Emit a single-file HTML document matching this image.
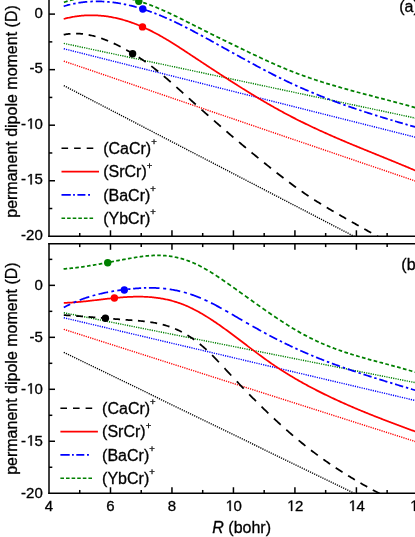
<!DOCTYPE html>
<html><head><meta charset="utf-8"><title>chart</title>
<style>html,body{margin:0;padding:0;background:#fff;}body{width:415px;height:537px;overflow:hidden;font-family:"Liberation Sans",sans-serif;}svg{display:block;will-change:transform;}</style></head>
<body>
<svg width="415" height="537" viewBox="0 0 415 537" font-family="'Liberation Sans', sans-serif" fill="#000"><style>text{stroke:#000;stroke-width:0.3px;}.o{fill:none;stroke:none;}</style>
<rect width="415" height="537" fill="#fff"/>
<clipPath id="ca"><rect x="49.00" y="-5.00" width="371.00" height="241.30"/></clipPath>
<g clip-path="url(#ca)">
<line x1="63.79" y1="85.62" x2="424.03" y2="272.66" stroke="#000" stroke-width="1.4" stroke-dasharray="1.2 1.1"/>
<line x1="63.79" y1="61.10" x2="424.03" y2="184.00" stroke="#f00" stroke-width="1.4" stroke-dasharray="1.2 1.1"/>
<line x1="63.79" y1="48.75" x2="424.03" y2="139.37" stroke="#00f" stroke-width="1.4" stroke-dasharray="1.2 1.1"/>
<line x1="63.79" y1="43.37" x2="424.03" y2="119.93" stroke="#008000" stroke-width="1.4" stroke-dasharray="1.2 1.1"/>
<path d="M63.70 34.72L64.67 34.53L65.64 34.36L66.61 34.21L67.58 34.07L68.55 33.95L69.52 33.85L70.49 33.76M76.13 33.56L77.11 33.58L78.10 33.61L79.08 33.66L80.07 33.72L81.05 33.80L82.04 33.89L83.02 33.99M88.66 34.87L89.64 35.06L90.63 35.27L91.61 35.49L92.60 35.73L93.58 35.97L94.57 36.23L95.55 36.50M101.19 38.27L102.17 38.62L103.16 38.97L104.14 39.34L105.13 39.71L106.11 40.10L107.10 40.50L108.08 40.90M113.72 43.39L114.70 43.86L115.69 44.33L116.67 44.81L117.66 45.30L118.64 45.79L119.63 46.29L120.61 46.80M126.25 49.85L127.23 50.40L128.22 50.96L129.20 51.52L130.19 52.09L131.17 52.67L132.16 53.25L133.14 53.84M138.78 57.35L139.76 57.99L140.75 58.64L141.73 59.30L142.72 59.96L143.70 60.64L144.69 61.32L145.67 62.02M151.31 66.15L152.29 66.90L153.28 67.66L154.26 68.42L155.25 69.19L156.23 69.97L157.22 70.76L158.20 71.55M163.84 76.20L164.82 77.03L165.81 77.86L166.79 78.70L167.78 79.54L168.76 80.39L169.75 81.24L170.73 82.10M176.37 87.06L177.35 87.94L178.34 88.82L179.32 89.70L180.31 90.58L181.29 91.46L182.28 92.35L183.26 93.23M188.90 98.32L189.88 99.21L190.87 100.09L191.85 100.98L192.84 101.86L193.82 102.75L194.81 103.63L195.79 104.51M201.43 109.55L202.41 110.42L203.40 111.29L204.38 112.17L205.37 113.04L206.35 113.91L207.34 114.78L208.32 115.64M213.96 120.59L214.94 121.45L215.93 122.31L216.91 123.16L217.90 124.02L218.88 124.87L219.87 125.73L220.85 126.58M226.49 131.44L227.47 132.28L228.46 133.12L229.44 133.97L230.43 134.81L231.41 135.64L232.40 136.48L233.38 137.32M239.02 142.08L240.00 142.91L240.99 143.74L241.97 144.56L242.96 145.38L243.94 146.21L244.93 147.03L245.91 147.85M251.55 152.51L252.53 153.32L253.52 154.13L254.50 154.94L255.49 155.75L256.47 156.55L257.46 157.35L258.44 158.16M264.08 162.72L265.06 163.51L266.05 164.30L267.03 165.09L268.02 165.88L269.00 166.67L269.99 167.45L270.97 168.24M276.61 172.69L277.59 173.46L278.58 174.23L279.56 175.00L280.55 175.76L281.53 176.52L282.52 177.28L283.50 178.03M289.14 182.31L290.12 183.04L291.11 183.77L292.09 184.50L293.08 185.23L294.06 185.95L295.05 186.67L296.03 187.38M301.67 191.39L302.65 192.07L303.64 192.75L304.62 193.43L305.61 194.10L306.59 194.77L307.58 195.43L308.56 196.09M314.20 199.77L315.18 200.39L316.17 201.02L317.15 201.64L318.14 202.25L319.12 202.86L320.11 203.47L321.09 204.08M326.73 207.49L327.71 208.07L328.70 208.66L329.68 209.24L330.67 209.82L331.65 210.39L332.64 210.97L333.62 211.54M339.26 214.79L340.24 215.35L341.23 215.92L342.21 216.48L343.20 217.04L344.18 217.60L345.17 218.15L346.15 218.71M351.79 221.91L352.77 222.46L353.76 223.02L354.74 223.57L355.73 224.13L356.71 224.68L357.70 225.24L358.68 225.79M364.32 228.96L365.30 229.52L366.29 230.07L367.27 230.62L368.26 231.17L369.24 231.73L370.23 232.28L371.21 232.83M376.85 235.99L377.83 236.54L378.82 237.09L379.80 237.64L380.79 238.19L381.77 238.74L382.76 239.29L383.74 239.84" fill="none" stroke="#000" stroke-width="1.75"/>
<path d="M63.70 18.99L64.70 18.72L65.70 18.46L66.69 18.21L67.69 17.97L68.69 17.75L69.69 17.53L70.69 17.32L71.68 17.13L72.68 16.94L73.68 16.76L74.68 16.60L75.68 16.44L76.67 16.29L77.67 16.16L78.67 16.03L79.67 15.91L80.67 15.80L81.66 15.71L82.66 15.62L83.66 15.54L84.66 15.47L85.66 15.41L86.65 15.36L87.65 15.32L88.65 15.29L89.65 15.27L90.65 15.26L91.64 15.26L92.64 15.27L93.64 15.29L94.64 15.31L95.64 15.35L96.63 15.39L97.63 15.45L98.63 15.51L99.63 15.58L100.63 15.67L101.62 15.76L102.62 15.86L103.62 15.97L104.62 16.08L105.62 16.21L106.61 16.35L107.61 16.49L108.61 16.65L109.61 16.81L110.61 16.98L111.61 17.16L112.60 17.35L113.60 17.55L114.60 17.75L115.60 17.97L116.60 18.19L117.59 18.42L118.59 18.66L119.59 18.91L120.59 19.17L121.59 19.43L122.58 19.71L123.58 19.99L124.58 20.28L125.58 20.58L126.58 20.89L127.57 21.20L128.57 21.53L129.57 21.86L130.57 22.20L131.57 22.55L132.56 22.90L133.56 23.27L134.56 23.64L135.56 24.02L136.56 24.41L137.55 24.80L138.55 25.21L139.55 25.62L140.55 26.04L141.55 26.46L142.54 26.90L143.54 27.34L144.54 27.79L145.54 28.25L146.54 28.71L147.53 29.18L148.53 29.66L149.53 30.15L150.53 30.64L151.53 31.14L152.52 31.65L153.52 32.16L154.52 32.68L155.52 33.21L156.52 33.74L157.51 34.28L158.51 34.83L159.51 35.38L160.51 35.94L161.51 36.50L162.50 37.07L163.50 37.64L164.50 38.22L165.50 38.81L166.50 39.40L167.49 39.99L168.49 40.60L169.49 41.20L170.49 41.81L171.49 42.43L172.48 43.05L173.48 43.67L174.48 44.30L175.48 44.93L176.48 45.57L177.47 46.21L178.47 46.85L179.47 47.50L180.47 48.14L181.47 48.79L182.46 49.44L183.46 50.10L184.46 50.75L185.46 51.41L186.46 52.07L187.45 52.73L188.45 53.38L189.45 54.04L190.45 54.70L191.45 55.36L192.44 56.02L193.44 56.68L194.44 57.34L195.44 58.00L196.44 58.66L197.44 59.32L198.43 59.98L199.43 60.64L200.43 61.30L201.43 61.95L202.43 62.61L203.42 63.27L204.42 63.93L205.42 64.58L206.42 65.24L207.42 65.90L208.41 66.55L209.41 67.21L210.41 67.86L211.41 68.52L212.41 69.17L213.40 69.82L214.40 70.47L215.40 71.13L216.40 71.78L217.40 72.43L218.39 73.08L219.39 73.72L220.39 74.37L221.39 75.02L222.39 75.67L223.38 76.31L224.38 76.96L225.38 77.60L226.38 78.24L227.38 78.88L228.37 79.52L229.37 80.16L230.37 80.80L231.37 81.44L232.37 82.08L233.36 82.71L234.36 83.34L235.36 83.98L236.36 84.61L237.36 85.24L238.35 85.87L239.35 86.49L240.35 87.12L241.35 87.75L242.35 88.37L243.34 88.99L244.34 89.61L245.34 90.23L246.34 90.85L247.34 91.46L248.33 92.08L249.33 92.69L250.33 93.30L251.33 93.91L252.33 94.52L253.32 95.12L254.32 95.73L255.32 96.33L256.32 96.93L257.32 97.53L258.31 98.13L259.31 98.72L260.31 99.31L261.31 99.91L262.31 100.49L263.30 101.08L264.30 101.67L265.30 102.25L266.30 102.83L267.30 103.41L268.29 103.99L269.29 104.56L270.29 105.13L271.29 105.70L272.29 106.27L273.28 106.84L274.28 107.40L275.28 107.96L276.28 108.52L277.28 109.08L278.27 109.63L279.27 110.18L280.27 110.73L281.27 111.28L282.27 111.82L283.26 112.36L284.26 112.90L285.26 113.44L286.26 113.97L287.26 114.50L288.26 115.03L289.25 115.55L290.25 116.08L291.25 116.60L292.25 117.11L293.25 117.63L294.24 118.14L295.24 118.65L296.24 119.16L297.24 119.66L298.24 120.17L299.23 120.67L300.23 121.16L301.23 121.66L302.23 122.15L303.23 122.64L304.22 123.13L305.22 123.62L306.22 124.10L307.22 124.58L308.22 125.06L309.21 125.54L310.21 126.02L311.21 126.49L312.21 126.96L313.21 127.43L314.20 127.90L315.20 128.37L316.20 128.83L317.20 129.29L318.20 129.75L319.19 130.21L320.19 130.67L321.19 131.12L322.19 131.58L323.19 132.03L324.18 132.48L325.18 132.92L326.18 133.37L327.18 133.82L328.18 134.26L329.17 134.70L330.17 135.14L331.17 135.58L332.17 136.02L333.17 136.46L334.16 136.89L335.16 137.33L336.16 137.76L337.16 138.19L338.16 138.62L339.15 139.05L340.15 139.47L341.15 139.90L342.15 140.33L343.15 140.75L344.14 141.17L345.14 141.60L346.14 142.02L347.14 142.44L348.14 142.86L349.13 143.28L350.13 143.69L351.13 144.11L352.13 144.52L353.13 144.94L354.12 145.35L355.12 145.77L356.12 146.18L357.12 146.59L358.12 147.00L359.11 147.42L360.11 147.83L361.11 148.24L362.11 148.64L363.11 149.05L364.10 149.46L365.10 149.87L366.10 150.28L367.10 150.68L368.10 151.09L369.09 151.50L370.09 151.90L371.09 152.31L372.09 152.72L373.09 153.12L374.09 153.53L375.08 153.93L376.08 154.34L377.08 154.74L378.08 155.15L379.08 155.55L380.07 155.96L381.07 156.36L382.07 156.77L383.07 157.17L384.07 157.58L385.06 157.99L386.06 158.39L387.06 158.80L388.06 159.20L389.06 159.61L390.05 160.02L391.05 160.42L392.05 160.83L393.05 161.24L394.05 161.65L395.04 162.06L396.04 162.47L397.04 162.88L398.04 163.29L399.04 163.70L400.03 164.11L401.03 164.52L402.03 164.94L403.03 165.35L404.03 165.76L405.02 166.18L406.02 166.60L407.02 167.01L408.02 167.43L409.02 167.85L410.01 168.27L411.01 168.69L412.01 169.11L413.01 169.53L414.01 169.96L415.00 170.38L416.00 170.81L417.00 171.23" fill="none" stroke="#f00" stroke-width="1.75"/>
<path d="M63.70 6.29L64.64 6.01L65.59 5.73L66.53 5.47L67.48 5.21L68.42 4.97L69.37 4.73L70.31 4.50M73.20 3.85L74.00 3.68L74.80 3.52L75.59 3.37M78.40 2.88L79.39 2.72L80.37 2.57L81.36 2.43L82.34 2.31L83.33 2.18L84.32 2.07L85.30 1.97L86.29 1.87L87.27 1.79M90.32 1.57L91.16 1.53L92.00 1.49L92.84 1.46M95.80 1.39L96.75 1.38L97.69 1.38L98.64 1.39L99.59 1.41L100.53 1.43L101.48 1.46L102.42 1.50L103.37 1.54L104.32 1.59M107.24 1.79L108.05 1.86L108.85 1.93L109.66 2.01M112.50 2.32L113.44 2.43L114.37 2.55L115.31 2.68L116.24 2.82L117.17 2.96L118.11 3.10L119.05 3.26L119.98 3.42L120.92 3.58M123.80 4.13L124.60 4.29L125.40 4.46L126.19 4.63M129.00 5.26L129.96 5.49L130.92 5.72L131.88 5.96L132.84 6.20L133.80 6.46L134.76 6.71L135.72 6.98L136.68 7.24M139.32 8.01L140.05 8.23L140.78 8.45L141.51 8.68M144.07 9.49L145.03 9.81L145.99 10.13L146.95 10.46L147.91 10.79L148.87 11.12L149.83 11.46L150.79 11.81L151.75 12.16M154.39 13.15L155.12 13.43L155.84 13.71L156.57 14.00M159.13 15.02L160.09 15.41L161.05 15.81L162.01 16.21L162.98 16.61L163.94 17.02L164.90 17.44L165.86 17.85L166.82 18.28M169.45 19.45L170.18 19.78L170.91 20.12L171.64 20.45M174.20 21.64L175.10 22.07L176.00 22.50L176.90 22.93L177.80 23.36L178.70 23.80L179.61 24.24L180.51 24.68L181.41 25.13L182.31 25.57M185.09 26.97L185.86 27.36L186.63 27.75L187.40 28.14M190.10 29.54L191.10 30.06L192.09 30.58L193.09 31.10L194.09 31.63L195.08 32.15L196.08 32.68L197.08 33.21L198.07 33.75M200.81 35.22L201.56 35.63L202.32 36.04L203.08 36.45M205.73 37.90L206.73 38.44L207.73 38.99L208.72 39.54L209.72 40.09L210.72 40.64L211.71 41.19L212.71 41.74L213.71 42.29M216.44 43.80L217.20 44.22L217.95 44.64L218.71 45.06M221.37 46.54L222.36 47.09L223.36 47.65L224.36 48.20L225.35 48.75L226.35 49.31L227.35 49.86L228.34 50.42L229.34 50.97M232.08 52.49L232.83 52.91L233.59 53.33L234.34 53.75M237.00 55.22L238.00 55.77L238.99 56.32L239.99 56.87L240.99 57.42L241.98 57.97L242.98 58.51L243.98 59.06L244.97 59.61M247.71 61.10L248.46 61.51L249.22 61.93L249.98 62.34M252.63 63.77L253.63 64.31L254.63 64.85L255.62 65.38L256.62 65.92L257.62 66.45L258.61 66.98L259.61 67.51L260.61 68.04M263.34 69.48L264.10 69.88L264.85 70.27L265.61 70.67M268.27 72.05L269.26 72.56L270.26 73.08L271.26 73.59L272.25 74.10L273.25 74.60L274.25 75.11L275.24 75.61L276.24 76.11M278.98 77.47L279.73 77.85L280.49 78.22L281.24 78.59M283.90 79.88L284.82 80.33L285.75 80.77L286.67 81.21L287.59 81.65L288.52 82.09L289.44 82.53L290.37 82.96L291.29 83.39L292.21 83.82M295.07 85.13L295.85 85.49L296.64 85.84L297.43 86.20M300.20 87.43L301.13 87.84L302.06 88.25L302.99 88.66L303.92 89.06L304.85 89.47L305.78 89.87L306.71 90.27L307.63 90.66L308.56 91.06M311.43 92.27L312.23 92.60L313.02 92.92L313.81 93.25M316.60 94.39L317.50 94.76L318.40 95.12L319.30 95.48L320.20 95.84L321.10 96.20L322.00 96.56L322.90 96.91L323.80 97.26L324.70 97.61M327.47 98.69L328.24 98.98L329.01 99.28L329.78 99.57M332.48 100.59L333.37 100.93L334.27 101.26L335.17 101.60L336.07 101.93L336.97 102.26L337.87 102.59L338.77 102.92L339.67 103.24L340.57 103.57M343.35 104.56L344.12 104.84L344.88 105.11L345.65 105.38M348.35 106.33L349.25 106.64L350.15 106.95L351.05 107.26L351.95 107.57L352.85 107.88L353.75 108.18L354.65 108.49L355.55 108.79L356.45 109.10M359.22 110.02L359.99 110.28L360.76 110.53L361.53 110.79M364.23 111.67L365.12 111.96L366.02 112.25L366.92 112.54L367.82 112.83L368.72 113.12L369.62 113.41L370.52 113.70L371.42 113.98L372.32 114.27M375.10 115.14L375.87 115.38L376.63 115.62L377.40 115.86M380.10 116.69L381.06 116.98L382.01 117.28L382.97 117.57L383.93 117.86L384.88 118.15L385.84 118.44L386.79 118.73L387.75 119.01M390.38 119.80L391.10 120.02L391.82 120.23L392.55 120.45M395.10 121.20L396.06 121.48L397.03 121.76L397.99 122.05L398.95 122.33L399.91 122.61L400.88 122.89L401.84 123.17L402.80 123.44M405.44 124.21L406.17 124.42L406.90 124.62L407.63 124.83M410.20 125.57L411.17 125.84L412.14 126.12L413.11 126.39L414.09 126.67L415.06 126.94L416.03 127.22L417.00 127.49" fill="none" stroke="#00f" stroke-width="1.75"/>
<path d="M63.90 2.34L64.83 2.02L65.76 1.72L66.69 1.42L67.62 1.13M70.00 0.42L70.93 0.15L71.86 -0.11L72.79 -0.36L73.72 -0.60M76.10 -1.18L77.03 -1.40L77.96 -1.61L78.89 -1.81L79.82 -2.00M82.20 -2.46L83.13 -2.63L84.06 -2.79L84.99 -2.94L85.92 -3.08M88.30 -3.42L89.23 -3.54L90.16 -3.65L91.09 -3.75L92.02 -3.84M94.40 -4.05L95.33 -4.12L96.26 -4.18L97.19 -4.23L98.12 -4.28M100.50 -4.36L101.43 -4.38L102.36 -4.39L103.29 -4.39L104.22 -4.39M106.60 -4.35L107.53 -4.31L108.46 -4.28L109.39 -4.23L110.32 -4.18M112.70 -4.01L113.63 -3.93L114.56 -3.84L115.49 -3.74L116.42 -3.64M118.80 -3.34L119.73 -3.21L120.66 -3.07L121.59 -2.93L122.52 -2.78M124.90 -2.35L125.83 -2.17L126.76 -1.98L127.69 -1.79L128.62 -1.59M131.00 -1.03L131.93 -0.80L132.86 -0.57L133.79 -0.33L134.72 -0.08M137.10 0.59L138.03 0.87L138.96 1.15L139.89 1.43L140.82 1.73M143.20 2.50L144.13 2.82L145.06 3.14L145.99 3.46L146.92 3.79M149.30 4.66L150.23 5.01L151.16 5.37L152.09 5.73L153.02 6.09M155.40 7.05L156.33 7.43L157.26 7.81L158.19 8.20L159.12 8.60M161.50 9.62L162.43 10.03L163.36 10.44L164.29 10.85L165.22 11.27M167.60 12.35L168.53 12.78L169.46 13.22L170.39 13.65L171.32 14.09M173.70 15.22L174.63 15.67L175.56 16.12L176.49 16.57L177.42 17.02M179.80 18.19L180.73 18.65L181.66 19.11L182.59 19.57L183.52 20.03M185.90 21.22L186.83 21.69L187.76 22.16L188.69 22.63L189.62 23.10M192.00 24.30L192.93 24.77L193.86 25.24L194.79 25.72L195.72 26.19M198.10 27.39L199.03 27.86L199.96 28.33L200.89 28.80L201.82 29.27M204.20 30.46L205.13 30.93L206.06 31.39L206.99 31.86L207.92 32.32M210.30 33.50L211.23 33.97L212.16 34.43L213.09 34.89L214.02 35.35M216.40 36.52L217.33 36.98L218.26 37.44L219.19 37.90L220.12 38.35M222.50 39.52L223.43 39.97L224.36 40.43L225.29 40.88L226.22 41.34M228.60 42.50L229.53 42.95L230.46 43.40L231.39 43.85L232.32 44.30M234.70 45.46L235.63 45.91L236.56 46.35L237.49 46.80L238.42 47.25M240.80 48.40L241.73 48.85L242.66 49.29L243.59 49.74L244.52 50.19M246.90 51.33L247.83 51.78L248.76 52.22L249.69 52.67L250.62 53.11M253.00 54.25L253.93 54.69L254.86 55.13L255.79 55.57L256.72 56.01M259.10 57.13L260.03 57.57L260.96 58.00L261.89 58.43L262.82 58.87M265.20 59.97L266.13 60.39L267.06 60.82L267.99 61.24L268.92 61.67M271.30 62.74L272.23 63.16L273.16 63.57L274.09 63.98L275.02 64.39M277.40 65.43L278.33 65.84L279.26 66.24L280.19 66.64L281.12 67.03M283.50 68.04L284.43 68.42L285.36 68.81L286.29 69.19L287.22 69.57M289.60 70.53L290.53 70.90L291.46 71.26L292.39 71.63L293.32 71.99M295.70 72.90L296.63 73.25L297.56 73.60L298.49 73.95L299.42 74.30M301.80 75.17L302.73 75.50L303.66 75.84L304.59 76.17L305.52 76.50M307.90 77.33L308.83 77.65L309.76 77.97L310.69 78.29L311.62 78.61M314.00 79.40L314.93 79.71L315.86 80.02L316.79 80.32L317.72 80.62M320.10 81.39L321.03 81.69L321.96 81.98L322.89 82.27L323.82 82.56M326.20 83.30L327.13 83.58L328.06 83.87L328.99 84.15L329.92 84.43M332.30 85.14L333.23 85.42L334.16 85.69L335.09 85.96L336.02 86.23M338.40 86.92L339.33 87.19L340.26 87.46L341.19 87.72L342.12 87.98M344.50 88.65L345.43 88.91L346.36 89.17L347.29 89.43L348.22 89.69M350.60 90.34L351.53 90.59L352.46 90.85L353.39 91.10L354.32 91.35M356.70 91.99L357.63 92.24L358.56 92.49L359.49 92.74L360.42 92.98M362.80 93.61L363.73 93.86L364.66 94.11L365.59 94.35L366.52 94.59M368.90 95.22L369.83 95.46L370.76 95.71L371.69 95.95L372.62 96.19M375.00 96.81L375.93 97.06L376.86 97.30L377.79 97.54L378.72 97.78M381.10 98.41L382.03 98.65L382.96 98.89L383.89 99.14L384.82 99.38M387.20 100.00L388.13 100.25L389.06 100.49L389.99 100.74L390.92 100.99M393.30 101.62L394.23 101.86L395.16 102.11L396.09 102.36L397.02 102.61M399.40 103.25L400.33 103.50L401.26 103.76L402.19 104.01L403.12 104.26M405.50 104.92L406.43 105.18L407.36 105.43L408.29 105.69L409.22 105.95M411.60 106.62L412.53 106.89L413.46 107.15L414.39 107.42L415.32 107.68" fill="none" stroke="#008000" stroke-width="1.75"/>
<circle cx="132.60" cy="53.80" r="3.7" fill="#000"/>
<circle cx="142.50" cy="26.90" r="3.7" fill="#f00"/>
<circle cx="142.80" cy="9.00" r="3.7" fill="#00f"/>
<circle cx="138.80" cy="1.20" r="3.7" fill="#008000"/>
</g>
<clipPath id="cb"><rect x="49.00" y="243.80" width="371.00" height="249.45"/></clipPath>
<g clip-path="url(#cb)">
<line x1="63.79" y1="352.27" x2="424.03" y2="527.27" stroke="#000" stroke-width="1.4" stroke-dasharray="1.2 1.1"/>
<line x1="63.79" y1="329.32" x2="424.03" y2="444.32" stroke="#f00" stroke-width="1.4" stroke-dasharray="1.2 1.1"/>
<line x1="63.79" y1="317.77" x2="424.03" y2="402.56" stroke="#00f" stroke-width="1.4" stroke-dasharray="1.2 1.1"/>
<line x1="63.79" y1="312.74" x2="424.03" y2="384.37" stroke="#008000" stroke-width="1.4" stroke-dasharray="1.2 1.1"/>
<path d="M63.80 315.09L64.77 315.15L65.74 315.22L66.71 315.29L67.68 315.35L68.66 315.42L69.63 315.49L70.60 315.56M76.16 315.96L77.13 316.03L78.10 316.11L79.07 316.18L80.04 316.25L81.02 316.33L81.99 316.40L82.96 316.47M88.52 316.91L89.49 316.98L90.46 317.06L91.43 317.13L92.40 317.21L93.38 317.29L94.35 317.36L95.32 317.44M100.88 317.88L101.85 317.96L102.82 318.04L103.79 318.11L104.76 318.19L105.74 318.27L106.71 318.35L107.68 318.42M113.24 318.86L114.21 318.94L115.18 319.01L116.15 319.09L117.12 319.16L118.10 319.23L119.07 319.31L120.04 319.38M125.60 319.80L126.57 319.87L127.54 319.94L128.51 320.01L129.48 320.08L130.46 320.15L131.43 320.22L132.40 320.29M137.96 320.73L138.93 320.82L139.90 320.90L140.87 321.00L141.84 321.09L142.82 321.19L143.79 321.29L144.76 321.40M150.32 322.13L151.29 322.27L152.26 322.43L153.23 322.59L154.20 322.76L155.18 322.94L156.15 323.12L157.12 323.32M162.68 324.61L163.65 324.87L164.62 325.14L165.59 325.43L166.56 325.72L167.54 326.03L168.51 326.35L169.48 326.68M175.04 328.82L176.01 329.24L176.98 329.67L177.95 330.12L178.92 330.58L179.90 331.05L180.87 331.54L181.84 332.04M187.40 335.19L188.37 335.79L189.34 336.40L190.31 337.03L191.28 337.67L192.26 338.33L193.23 339.01L194.20 339.70M199.76 343.95L200.73 344.75L201.70 345.56L202.67 346.39L203.64 347.23L204.62 348.09L205.59 348.97L206.56 349.87M212.12 355.24L213.09 356.22L214.06 357.21L215.03 358.20L216.00 359.21L216.98 360.22L217.95 361.24L218.92 362.26M224.48 368.21L225.45 369.25L226.42 370.30L227.39 371.35L228.36 372.39L229.34 373.43L230.31 374.48L231.28 375.52M236.84 381.44L237.81 382.47L238.78 383.50L239.75 384.52L240.72 385.54L241.70 386.56L242.67 387.57L243.64 388.58M249.20 394.32L250.17 395.31L251.14 396.30L252.11 397.28L253.08 398.27L254.06 399.24L255.03 400.22L256.00 401.19M261.56 406.69L262.53 407.64L263.50 408.59L264.47 409.53L265.44 410.47L266.42 411.40L267.39 412.34L268.36 413.27M273.92 418.51L274.89 419.42L275.86 420.32L276.83 421.21L277.80 422.11L278.78 423.00L279.75 423.88L280.72 424.76M286.28 429.74L287.25 430.59L288.22 431.44L289.19 432.29L290.16 433.13L291.14 433.97L292.11 434.80L293.08 435.63M298.64 440.31L299.61 441.11L300.58 441.91L301.55 442.71L302.52 443.49L303.50 444.28L304.47 445.06L305.44 445.84M311.00 450.19L311.97 450.94L312.94 451.68L313.91 452.42L314.88 453.15L315.86 453.88L316.83 454.60L317.80 455.32M323.36 459.35L324.33 460.04L325.30 460.72L326.27 461.40L327.24 462.08L328.22 462.75L329.19 463.42L330.16 464.08M335.72 467.81L336.69 468.45L337.66 469.09L338.63 469.72L339.60 470.35L340.58 470.97L341.55 471.59L342.52 472.21M348.08 475.68L349.05 476.27L350.02 476.86L350.99 477.45L351.96 478.04L352.94 478.62L353.91 479.20L354.88 479.78M360.44 483.02L361.41 483.58L362.38 484.14L363.35 484.69L364.32 485.24L365.30 485.79L366.27 486.33L367.24 486.88M372.80 489.94L373.77 490.47L374.74 491.00L375.71 491.52L376.68 492.04L377.66 492.56L378.63 493.08L379.60 493.59M385.16 496.52L386.13 497.02L387.10 497.52L388.07 498.02L389.04 498.52L390.02 499.02L390.99 499.52L391.96 500.02" fill="none" stroke="#000" stroke-width="1.75"/>
<path d="M63.80 302.90L64.80 302.87L65.80 302.83L66.79 302.79L67.79 302.74L68.79 302.69L69.79 302.63L70.78 302.57L71.78 302.51L72.78 302.44L73.78 302.37L74.78 302.29L75.77 302.21L76.77 302.13L77.77 302.04L78.77 301.95L79.76 301.86L80.76 301.77L81.76 301.67L82.76 301.57L83.75 301.47L84.75 301.37L85.75 301.26L86.75 301.16L87.75 301.05L88.74 300.94L89.74 300.82L90.74 300.71L91.74 300.60L92.73 300.48L93.73 300.37L94.73 300.25L95.73 300.13L96.73 300.02L97.72 299.90L98.72 299.78L99.72 299.66L100.72 299.54L101.71 299.43L102.71 299.31L103.71 299.19L104.71 299.08L105.71 298.96L106.70 298.85L107.70 298.74L108.70 298.63L109.70 298.52L110.69 298.41L111.69 298.31L112.69 298.20L113.69 298.10L114.68 298.00L115.68 297.90L116.68 297.81L117.68 297.72L118.68 297.63L119.67 297.54L120.67 297.46L121.67 297.38L122.67 297.30L123.66 297.23L124.66 297.16L125.66 297.10L126.66 297.04L127.66 296.98L128.65 296.93L129.65 296.88L130.65 296.84L131.65 296.80L132.64 296.76L133.64 296.73L134.64 296.71L135.64 296.69L136.64 296.68L137.63 296.67L138.63 296.67L139.63 296.67L140.63 296.68L141.62 296.70L142.62 296.72L143.62 296.75L144.62 296.79L145.61 296.83L146.61 296.88L147.61 296.93L148.61 297.00L149.61 297.07L150.60 297.15L151.60 297.23L152.60 297.32L153.60 297.42L154.59 297.53L155.59 297.65L156.59 297.77L157.59 297.91L158.59 298.05L159.58 298.20L160.58 298.36L161.58 298.52L162.58 298.70L163.57 298.88L164.57 299.08L165.57 299.28L166.57 299.49L167.56 299.72L168.56 299.95L169.56 300.19L170.56 300.44L171.56 300.70L172.55 300.97L173.55 301.25L174.55 301.54L175.55 301.85L176.54 302.16L177.54 302.48L178.54 302.81L179.54 303.16L180.54 303.51L181.53 303.88L182.53 304.26L183.53 304.65L184.53 305.05L185.52 305.46L186.52 305.89L187.52 306.32L188.52 306.77L189.52 307.23L190.51 307.69L191.51 308.17L192.51 308.66L193.51 309.16L194.50 309.67L195.50 310.19L196.50 310.72L197.50 311.26L198.49 311.81L199.49 312.36L200.49 312.93L201.49 313.50L202.49 314.09L203.48 314.68L204.48 315.27L205.48 315.88L206.48 316.50L207.47 317.12L208.47 317.75L209.47 318.38L210.47 319.03L211.47 319.67L212.46 320.33L213.46 320.99L214.46 321.66L215.46 322.34L216.45 323.02L217.45 323.70L218.45 324.39L219.45 325.09L220.45 325.79L221.44 326.49L222.44 327.20L223.44 327.92L224.44 328.63L225.43 329.36L226.43 330.08L227.43 330.81L228.43 331.54L229.42 332.28L230.42 333.02L231.42 333.76L232.42 334.50L233.42 335.25L234.41 336.00L235.41 336.75L236.41 337.50L237.41 338.25L238.40 339.01L239.40 339.76L240.40 340.52L241.40 341.28L242.40 342.04L243.39 342.80L244.39 343.55L245.39 344.31L246.39 345.07L247.38 345.83L248.38 346.59L249.38 347.35L250.38 348.10L251.38 348.86L252.37 349.61L253.37 350.36L254.37 351.11L255.37 351.86L256.36 352.61L257.36 353.35L258.36 354.09L259.36 354.83L260.35 355.57L261.35 356.30L262.35 357.03L263.35 357.76L264.35 358.48L265.34 359.20L266.34 359.91L267.34 360.62L268.34 361.33L269.33 362.03L270.33 362.73L271.33 363.42L272.33 364.10L273.33 364.79L274.32 365.46L275.32 366.13L276.32 366.80L277.32 367.46L278.31 368.12L279.31 368.78L280.31 369.42L281.31 370.07L282.31 370.71L283.30 371.34L284.30 371.97L285.30 372.60L286.30 373.22L287.29 373.84L288.29 374.45L289.29 375.06L290.29 375.67L291.28 376.27L292.28 376.87L293.28 377.46L294.28 378.05L295.28 378.64L296.27 379.22L297.27 379.80L298.27 380.37L299.27 380.94L300.26 381.51L301.26 382.07L302.26 382.63L303.26 383.18L304.26 383.74L305.25 384.29L306.25 384.83L307.25 385.37L308.25 385.91L309.24 386.45L310.24 386.98L311.24 387.51L312.24 388.03L313.24 388.55L314.23 389.07L315.23 389.59L316.23 390.10L317.23 390.61L318.22 391.12L319.22 391.63L320.22 392.13L321.22 392.63L322.21 393.12L323.21 393.62L324.21 394.11L325.21 394.59L326.21 395.08L327.20 395.56L328.20 396.04L329.20 396.52L330.20 397.00L331.19 397.47L332.19 397.94L333.19 398.41L334.19 398.88L335.19 399.34L336.18 399.80L337.18 400.26L338.18 400.72L339.18 401.17L340.17 401.63L341.17 402.08L342.17 402.53L343.17 402.97L344.16 403.42L345.16 403.86L346.16 404.30L347.16 404.74L348.16 405.18L349.15 405.61L350.15 406.05L351.15 406.48L352.15 406.91L353.14 407.34L354.14 407.76L355.14 408.19L356.14 408.61L357.14 409.03L358.13 409.45L359.13 409.87L360.13 410.28L361.13 410.70L362.12 411.11L363.12 411.52L364.12 411.93L365.12 412.34L366.12 412.74L367.11 413.15L368.11 413.55L369.11 413.96L370.11 414.36L371.10 414.76L372.10 415.15L373.10 415.55L374.10 415.95L375.09 416.34L376.09 416.74L377.09 417.13L378.09 417.52L379.09 417.91L380.08 418.30L381.08 418.69L382.08 419.07L383.08 419.46L384.07 419.84L385.07 420.23L386.07 420.61L387.07 420.99L388.07 421.37L389.06 421.75L390.06 422.13L391.06 422.51L392.06 422.89L393.05 423.27L394.05 423.64L395.05 424.02L396.05 424.39L397.05 424.77L398.04 425.14L399.04 425.51L400.04 425.88L401.04 426.26L402.03 426.63L403.03 427.00L404.03 427.37L405.03 427.74L406.02 428.11L407.02 428.48L408.02 428.84L409.02 429.21L410.02 429.58L411.01 429.95L412.01 430.31L413.01 430.68L414.01 431.05L415.00 431.41L416.00 431.78L417.00 432.15" fill="none" stroke="#f00" stroke-width="1.75"/>
<path d="M63.80 307.52L64.71 307.02L65.63 306.53L66.54 306.06L67.45 305.59L68.37 305.13L69.28 304.67L70.19 304.23M73.59 302.66L74.53 302.24L75.46 301.84L76.40 301.44M79.70 300.10L80.66 299.73L81.62 299.37L82.58 299.02L83.54 298.67L84.49 298.34L85.45 298.01L86.41 297.68L87.37 297.37L88.33 297.06L89.29 296.76M92.58 295.78L93.49 295.52L94.40 295.27L95.30 295.03M98.50 294.21L99.46 293.98L100.42 293.75L101.38 293.53L102.34 293.32L103.29 293.11L104.25 292.90L105.21 292.70L106.17 292.51L107.13 292.32L108.09 292.14M111.38 291.54L112.29 291.39L113.20 291.23L114.10 291.09M117.30 290.59L118.20 290.46L119.09 290.34L119.99 290.21L120.88 290.09L121.78 289.97L122.67 289.85L123.57 289.74L124.46 289.63L125.36 289.52M128.12 289.20L128.89 289.12L129.65 289.03L130.41 288.95M133.10 288.69L134.00 288.61L134.89 288.54L135.79 288.46L136.68 288.39L137.58 288.33L138.47 288.27L139.37 288.21L140.26 288.15L141.16 288.10M143.92 287.98L144.69 287.95L145.45 287.93L146.21 287.91M148.90 287.86L149.86 287.86L150.83 287.86L151.79 287.87L152.76 287.88L153.72 287.91L154.69 287.93L155.65 287.97L156.61 288.01L157.58 288.06L158.54 288.11L159.51 288.17M163.15 288.48L163.90 288.55L164.66 288.63L165.41 288.72L166.16 288.80M169.70 289.28L170.66 289.43L171.61 289.58L172.57 289.74L173.52 289.91L174.48 290.09L175.43 290.27L176.39 290.47L177.34 290.67L178.30 290.87L179.25 291.09L180.21 291.31M183.81 292.23L184.81 292.50L185.80 292.78L186.80 293.07M190.30 294.16L191.26 294.48L192.22 294.81L193.18 295.15L194.15 295.49L195.11 295.84L196.07 296.20L197.03 296.57L197.99 296.95L198.95 297.34L199.91 297.74L200.87 298.14M204.50 299.74L205.25 300.08L206.01 300.43L206.76 300.79L207.51 301.14M211.03 302.87L211.99 303.35L212.96 303.84L213.92 304.34L214.88 304.84L215.84 305.35L216.80 305.86L217.76 306.37L218.72 306.89L219.68 307.41L220.65 307.94L221.61 308.47M225.24 310.50L225.99 310.93L226.74 311.36L227.49 311.79L228.24 312.22M231.77 314.25L232.73 314.80L233.69 315.36L234.65 315.92L235.61 316.48L236.57 317.04L237.53 317.59L238.50 318.15L239.46 318.71L240.42 319.27L241.38 319.83L242.34 320.38M245.97 322.47L246.72 322.90L247.47 323.33L248.22 323.75L248.98 324.18M252.50 326.17L253.46 326.71L254.42 327.25L255.37 327.78L256.33 328.32L257.29 328.85L258.25 329.38L259.20 329.91L260.16 330.43L261.12 330.96M264.08 332.56L264.89 333.01L265.71 333.45L266.53 333.88M269.40 335.41L270.37 335.93L271.34 336.44L272.31 336.94L273.28 337.45L274.25 337.95L275.21 338.45L276.18 338.95L277.15 339.45M279.81 340.80L280.55 341.17L281.28 341.53L282.02 341.90M284.60 343.18L285.49 343.61L286.38 344.05L287.27 344.48L288.16 344.91L289.05 345.33L289.94 345.76L290.83 346.18L291.72 346.60L292.61 347.02M295.35 348.29L296.11 348.64L296.87 348.99L297.63 349.33M300.30 350.53L301.20 350.93L302.09 351.32L302.99 351.72L303.88 352.11L304.78 352.50L305.67 352.89L306.57 353.27L307.46 353.65L308.36 354.04M311.12 355.20L311.89 355.52L312.65 355.84L313.41 356.15M316.10 357.25L317.00 357.61L317.89 357.97L318.79 358.33L319.68 358.69L320.58 359.05L321.47 359.40L322.37 359.75L323.26 360.10L324.16 360.45M326.92 361.51L327.69 361.81L328.45 362.10L329.21 362.39M331.90 363.39L332.80 363.73L333.69 364.06L334.59 364.39L335.48 364.72L336.38 365.04L337.27 365.37L338.17 365.69L339.06 366.01L339.96 366.34M342.72 367.32L343.49 367.59L344.25 367.86L345.01 368.12M347.70 369.06L348.60 369.37L349.49 369.67L350.39 369.98L351.28 370.29L352.18 370.59L353.07 370.89L353.97 371.19L354.86 371.49L355.76 371.79M358.52 372.71L359.29 372.97L360.05 373.22L360.81 373.47M363.50 374.34L364.40 374.64L365.29 374.92L366.19 375.21L367.08 375.50L367.98 375.79L368.87 376.07L369.77 376.36L370.66 376.64L371.56 376.93M374.32 377.80L375.09 378.04L375.85 378.28L376.61 378.52M379.30 379.36L380.20 379.63L381.09 379.91L381.99 380.19L382.88 380.46L383.78 380.74L384.67 381.02L385.57 381.29L386.46 381.56L387.36 381.84M390.12 382.68L390.89 382.91L391.65 383.15L392.41 383.38M395.10 384.19L396.00 384.46L396.89 384.73L397.79 385.01L398.68 385.28L399.58 385.55L400.47 385.82L401.37 386.09L402.26 386.36L403.16 386.63M405.92 387.46L406.69 387.69L407.45 387.92L408.21 388.15M410.90 388.96L411.77 389.22L412.64 389.48L413.51 389.74L414.39 390.01L415.26 390.27L416.13 390.53L417.00 390.80" fill="none" stroke="#00f" stroke-width="1.75"/>
<path d="M63.60 268.93L64.49 268.87L65.38 268.80L66.28 268.72L67.17 268.64M69.45 268.43L70.34 268.34L71.23 268.24L72.13 268.15L73.02 268.05M75.30 267.78L76.19 267.67L77.08 267.56L77.98 267.44L78.87 267.33M81.15 267.02L82.04 266.89L82.93 266.76L83.83 266.63L84.72 266.50M87.00 266.15L87.89 266.01L88.78 265.87L89.68 265.72L90.57 265.58M92.85 265.20L93.74 265.05L94.63 264.89L95.53 264.74L96.42 264.58M98.70 264.18L99.59 264.02L100.48 263.86L101.38 263.70L102.27 263.53M104.55 263.11L105.44 262.95L106.33 262.78L107.23 262.61L108.12 262.44M110.40 262.01L111.29 261.85L112.18 261.68L113.08 261.51L113.97 261.34M116.25 260.90L117.14 260.73L118.03 260.56L118.93 260.40L119.82 260.23M122.10 259.80L122.99 259.63L123.88 259.46L124.78 259.30L125.67 259.13M127.95 258.71L128.84 258.55L129.73 258.39L130.63 258.24L131.52 258.08M133.80 257.69L134.69 257.55L135.58 257.40L136.48 257.26L137.37 257.13M139.65 256.79L140.54 256.67L141.43 256.55L142.33 256.44L143.22 256.33M145.50 256.07L146.39 255.98L147.28 255.90L148.18 255.82L149.07 255.74M151.35 255.58L152.24 255.53L153.13 255.49L154.03 255.46L154.92 255.43M157.20 255.39L158.09 255.39L158.98 255.40L159.88 255.41L160.77 255.44M163.05 255.54L163.94 255.60L164.83 255.67L165.73 255.74L166.62 255.83M168.90 256.09L169.79 256.21L170.68 256.34L171.58 256.48L172.47 256.63M174.75 257.05L175.64 257.24L176.53 257.43L177.43 257.63L178.32 257.84M180.60 258.43L181.49 258.68L182.38 258.93L183.28 259.20L184.17 259.47M186.45 260.22L187.34 260.54L188.23 260.86L189.13 261.19L190.02 261.53M192.30 262.44L193.19 262.82L194.08 263.21L194.98 263.60L195.87 264.01M198.15 265.09L199.04 265.53L199.93 265.98L200.83 266.44L201.72 266.92M204.00 268.16L204.89 268.66L205.78 269.17L206.68 269.69L207.57 270.21M209.85 271.58L210.74 272.13L211.63 272.69L212.53 273.25L213.42 273.82M215.70 275.29L216.59 275.88L217.48 276.47L218.38 277.06L219.27 277.66M221.55 279.21L222.44 279.82L223.33 280.44L224.23 281.05L225.12 281.67M227.40 283.27L228.29 283.89L229.18 284.52L230.08 285.15L230.97 285.78M233.25 287.39L234.14 288.02L235.03 288.66L235.93 289.29L236.82 289.93M239.10 291.56L239.99 292.20L240.88 292.84L241.78 293.48L242.67 294.11M244.95 295.75L245.84 296.39L246.73 297.03L247.63 297.67L248.52 298.31M250.80 299.94L251.69 300.58L252.58 301.22L253.48 301.86L254.37 302.49M256.65 304.12L257.54 304.75L258.43 305.38L259.33 306.01L260.22 306.64M262.50 308.25L263.39 308.88L264.28 309.50L265.18 310.13L266.07 310.75M268.35 312.33L269.24 312.94L270.13 313.56L271.03 314.17L271.92 314.78M274.20 316.32L275.09 316.93L275.98 317.52L276.88 318.12L277.77 318.71M280.05 320.22L280.94 320.81L281.83 321.39L282.73 321.96L283.62 322.54M285.90 324.00L286.79 324.56L287.68 325.12L288.58 325.68L289.47 326.23M291.75 327.63L292.64 328.17L293.53 328.71L294.43 329.24L295.32 329.77M297.60 331.11L298.49 331.62L299.38 332.13L300.28 332.64L301.17 333.14M303.45 334.40L304.34 334.89L305.23 335.37L306.13 335.84L307.02 336.31M309.30 337.49L310.19 337.95L311.08 338.39L311.98 338.84L312.87 339.27M315.15 340.37L316.04 340.79L316.93 341.20L317.83 341.61L318.72 342.02M321.00 343.04L321.89 343.43L322.78 343.81L323.68 344.19L324.57 344.57M326.85 345.52L327.74 345.88L328.63 346.24L329.53 346.59L330.42 346.94M332.70 347.83L333.59 348.16L334.48 348.50L335.38 348.83L336.27 349.16M338.55 349.98L339.44 350.30L340.33 350.61L341.23 350.92L342.12 351.23M344.40 352.00L345.29 352.30L346.18 352.59L347.08 352.88L347.97 353.17M350.25 353.90L351.14 354.18L352.03 354.46L352.93 354.73L353.82 355.01M356.10 355.70L356.99 355.96L357.88 356.23L358.78 356.49L359.67 356.75M361.95 357.41L362.84 357.67L363.73 357.92L364.63 358.17L365.52 358.42M367.80 359.06L368.69 359.31L369.58 359.55L370.48 359.80L371.37 360.04M373.65 360.66L374.54 360.90L375.43 361.14L376.33 361.38L377.22 361.62M379.50 362.23L380.39 362.47L381.28 362.71L382.18 362.94L383.07 363.18M385.35 363.79L386.24 364.02L387.13 364.26L388.03 364.50L388.92 364.74M391.20 365.35L392.09 365.59L392.98 365.83L393.88 366.07L394.77 366.31M397.05 366.93L397.94 367.17L398.83 367.42L399.73 367.66L400.62 367.91M402.90 368.55L403.79 368.80L404.68 369.05L405.58 369.31L406.47 369.57M408.75 370.23L409.64 370.49L410.53 370.75L411.43 371.02L412.32 371.29M414.60 371.98L415.40 372.23L416.20 372.48L417.00 372.73" fill="none" stroke="#008000" stroke-width="1.75"/>
<circle cx="105.40" cy="318.30" r="3.7" fill="#000"/>
<circle cx="114.40" cy="298.00" r="3.7" fill="#f00"/>
<circle cx="124.30" cy="290.00" r="3.7" fill="#00f"/>
<circle cx="107.70" cy="262.70" r="3.7" fill="#008000"/>
</g>
<line x1="49.00" y1="-5" x2="49.00" y2="237.05" stroke="#000" stroke-width="1.50"/>
<line x1="49.00" y1="243.05" x2="49.00" y2="494.00" stroke="#000" stroke-width="1.50"/>
<line x1="48.25" y1="236.30" x2="420" y2="236.30" stroke="#000" stroke-width="1.50"/>
<line x1="48.25" y1="243.80" x2="420" y2="243.80" stroke="#000" stroke-width="1.50"/>
<line x1="48.25" y1="493.25" x2="420" y2="493.25" stroke="#000" stroke-width="1.50"/>
<line x1="79.74" y1="236.30" x2="79.74" y2="233.00" stroke="#000" stroke-width="1.50"/>
<line x1="79.74" y1="243.80" x2="79.74" y2="247.10" stroke="#000" stroke-width="1.50"/>
<line x1="79.74" y1="493.25" x2="79.74" y2="489.95" stroke="#000" stroke-width="1.50"/>
<line x1="110.48" y1="236.30" x2="110.48" y2="230.30" stroke="#000" stroke-width="1.50"/>
<line x1="110.48" y1="243.80" x2="110.48" y2="249.80" stroke="#000" stroke-width="1.50"/>
<line x1="110.48" y1="493.25" x2="110.48" y2="487.25" stroke="#000" stroke-width="1.50"/>
<line x1="141.22" y1="236.30" x2="141.22" y2="233.00" stroke="#000" stroke-width="1.50"/>
<line x1="141.22" y1="243.80" x2="141.22" y2="247.10" stroke="#000" stroke-width="1.50"/>
<line x1="141.22" y1="493.25" x2="141.22" y2="489.95" stroke="#000" stroke-width="1.50"/>
<line x1="171.96" y1="236.30" x2="171.96" y2="230.30" stroke="#000" stroke-width="1.50"/>
<line x1="171.96" y1="243.80" x2="171.96" y2="249.80" stroke="#000" stroke-width="1.50"/>
<line x1="171.96" y1="493.25" x2="171.96" y2="487.25" stroke="#000" stroke-width="1.50"/>
<line x1="202.70" y1="236.30" x2="202.70" y2="233.00" stroke="#000" stroke-width="1.50"/>
<line x1="202.70" y1="243.80" x2="202.70" y2="247.10" stroke="#000" stroke-width="1.50"/>
<line x1="202.70" y1="493.25" x2="202.70" y2="489.95" stroke="#000" stroke-width="1.50"/>
<line x1="233.44" y1="236.30" x2="233.44" y2="230.30" stroke="#000" stroke-width="1.50"/>
<line x1="233.44" y1="243.80" x2="233.44" y2="249.80" stroke="#000" stroke-width="1.50"/>
<line x1="233.44" y1="493.25" x2="233.44" y2="487.25" stroke="#000" stroke-width="1.50"/>
<line x1="264.18" y1="236.30" x2="264.18" y2="233.00" stroke="#000" stroke-width="1.50"/>
<line x1="264.18" y1="243.80" x2="264.18" y2="247.10" stroke="#000" stroke-width="1.50"/>
<line x1="264.18" y1="493.25" x2="264.18" y2="489.95" stroke="#000" stroke-width="1.50"/>
<line x1="294.92" y1="236.30" x2="294.92" y2="230.30" stroke="#000" stroke-width="1.50"/>
<line x1="294.92" y1="243.80" x2="294.92" y2="249.80" stroke="#000" stroke-width="1.50"/>
<line x1="294.92" y1="493.25" x2="294.92" y2="487.25" stroke="#000" stroke-width="1.50"/>
<line x1="325.66" y1="236.30" x2="325.66" y2="233.00" stroke="#000" stroke-width="1.50"/>
<line x1="325.66" y1="243.80" x2="325.66" y2="247.10" stroke="#000" stroke-width="1.50"/>
<line x1="325.66" y1="493.25" x2="325.66" y2="489.95" stroke="#000" stroke-width="1.50"/>
<line x1="356.40" y1="236.30" x2="356.40" y2="230.30" stroke="#000" stroke-width="1.50"/>
<line x1="356.40" y1="243.80" x2="356.40" y2="249.80" stroke="#000" stroke-width="1.50"/>
<line x1="356.40" y1="493.25" x2="356.40" y2="487.25" stroke="#000" stroke-width="1.50"/>
<line x1="387.14" y1="236.30" x2="387.14" y2="233.00" stroke="#000" stroke-width="1.50"/>
<line x1="387.14" y1="243.80" x2="387.14" y2="247.10" stroke="#000" stroke-width="1.50"/>
<line x1="387.14" y1="493.25" x2="387.14" y2="489.95" stroke="#000" stroke-width="1.50"/>
<line x1="417.88" y1="236.30" x2="417.88" y2="230.30" stroke="#000" stroke-width="1.50"/>
<line x1="417.88" y1="243.80" x2="417.88" y2="249.80" stroke="#000" stroke-width="1.50"/>
<line x1="417.88" y1="493.25" x2="417.88" y2="487.25" stroke="#000" stroke-width="1.50"/>
<line x1="49.00" y1="208.52" x2="52.30" y2="208.52" stroke="#000" stroke-width="1.50"/>
<line x1="49.00" y1="467.26" x2="52.30" y2="467.26" stroke="#000" stroke-width="1.50"/>
<line x1="49.00" y1="180.75" x2="55.00" y2="180.75" stroke="#000" stroke-width="1.50"/>
<line x1="49.00" y1="441.27" x2="55.00" y2="441.27" stroke="#000" stroke-width="1.50"/>
<line x1="49.00" y1="152.97" x2="52.30" y2="152.97" stroke="#000" stroke-width="1.50"/>
<line x1="49.00" y1="415.29" x2="52.30" y2="415.29" stroke="#000" stroke-width="1.50"/>
<line x1="49.00" y1="125.20" x2="55.00" y2="125.20" stroke="#000" stroke-width="1.50"/>
<line x1="49.00" y1="389.30" x2="55.00" y2="389.30" stroke="#000" stroke-width="1.50"/>
<line x1="49.00" y1="97.42" x2="52.30" y2="97.42" stroke="#000" stroke-width="1.50"/>
<line x1="49.00" y1="363.31" x2="52.30" y2="363.31" stroke="#000" stroke-width="1.50"/>
<line x1="49.00" y1="69.65" x2="55.00" y2="69.65" stroke="#000" stroke-width="1.50"/>
<line x1="49.00" y1="337.33" x2="55.00" y2="337.33" stroke="#000" stroke-width="1.50"/>
<line x1="49.00" y1="41.88" x2="52.30" y2="41.88" stroke="#000" stroke-width="1.50"/>
<line x1="49.00" y1="311.34" x2="52.30" y2="311.34" stroke="#000" stroke-width="1.50"/>
<line x1="49.00" y1="14.10" x2="55.00" y2="14.10" stroke="#000" stroke-width="1.50"/>
<line x1="49.00" y1="285.35" x2="55.00" y2="285.35" stroke="#000" stroke-width="1.50"/>
<line x1="49.00" y1="259.36" x2="52.30" y2="259.36" stroke="#000" stroke-width="1.50"/>
<text x="42.8" y="17.77" text-anchor="end" font-size="15">0</text>
<text x="42.8" y="289.72" text-anchor="end" font-size="15">0</text>
<text x="42.8" y="73.32" text-anchor="end" font-size="15">-5</text>
<text x="42.8" y="341.70" text-anchor="end" font-size="15">-5</text>
<text x="42.8" y="128.87" text-anchor="end" font-size="15">-<tspan class="o">1</tspan>0</text>
<text x="42.8" y="393.67" text-anchor="end" font-size="15">-<tspan class="o">1</tspan>0</text>
<text x="42.8" y="184.42" text-anchor="end" font-size="15">-<tspan class="o">1</tspan>5</text>
<text x="42.8" y="445.64" text-anchor="end" font-size="15">-<tspan class="o">1</tspan>5</text>
<text x="42.8" y="239.97" text-anchor="end" font-size="15">-20</text>
<text x="42.8" y="497.62" text-anchor="end" font-size="15">-20</text>
<text x="49.00" y="510.9" text-anchor="middle" font-size="15">4</text>
<text x="110.48" y="510.9" text-anchor="middle" font-size="15">6</text>
<text x="171.96" y="510.9" text-anchor="middle" font-size="15">8</text>
<text x="233.44" y="510.9" text-anchor="middle" font-size="15"><tspan class="o">1</tspan>0</text>
<text x="294.92" y="510.9" text-anchor="middle" font-size="15"><tspan class="o">1</tspan>2</text>
<text x="356.40" y="510.9" text-anchor="middle" font-size="15"><tspan class="o">1</tspan>4</text>
<text x="417.88" y="510.9" text-anchor="middle" font-size="15"><tspan class="o">1</tspan>6</text>
<text x="212.3" y="532.6" font-size="16"><tspan font-style="italic">R</tspan> (bohr)</text>
<text transform="translate(16.9 111.50) rotate(-90)" text-anchor="middle" font-size="16">permanent dipole moment (D)</text>
<text transform="translate(16.9 368.60) rotate(-90)" text-anchor="middle" font-size="16">permanent dipole moment (D)</text>
<text x="399.2" y="12.4" font-size="16">(a)</text>
<text x="401.3" y="270.4" font-size="16">(b)</text>
<path d="M61.50 148.30H68.10M74.10 148.30H80.70M86.70 148.30H93.30" stroke="#000" stroke-width="1.60" fill="none"/>
<text x="103.20" y="154.10" font-size="16">(CaCr)<tspan font-size="9.5" dy="-8.8">+</tspan></text>
<path d="M61.50 171.60H99.00" stroke="#f00" stroke-width="1.60" fill="none"/>
<text x="103.20" y="177.40" font-size="16">(SrCr)<tspan font-size="9.5" dy="-8.8">+</tspan></text>
<path d="M61.50 194.90H70.80M73.10 194.90H74.90M77.40 194.90H85.40M88.10 194.90H90.00" stroke="#00f" stroke-width="1.60" fill="none"/>
<text x="103.20" y="200.70" font-size="16">(BaCr)<tspan font-size="9.5" dy="-8.8">+</tspan></text>
<path d="M61.50 218.20H65.10M67.10 218.20H70.70M72.70 218.20H76.30M78.30 218.20H81.90M83.90 218.20H87.50M89.50 218.20H93.10" stroke="#008000" stroke-width="1.60" fill="none"/>
<text x="103.20" y="224.00" font-size="16">(YbCr)<tspan font-size="9.5" dy="-8.8">+</tspan></text>
<path d="M60.40 408.30H67.00M73.00 408.30H79.60M85.60 408.30H92.20" stroke="#000" stroke-width="1.60" fill="none"/>
<text x="102.10" y="414.10" font-size="16">(CaCr)<tspan font-size="9.5" dy="-8.8">+</tspan></text>
<path d="M60.40 431.60H97.90" stroke="#f00" stroke-width="1.60" fill="none"/>
<text x="102.10" y="437.40" font-size="16">(SrCr)<tspan font-size="9.5" dy="-8.8">+</tspan></text>
<path d="M60.40 454.90H69.70M72.00 454.90H73.80M76.30 454.90H84.30M87.00 454.90H88.90" stroke="#00f" stroke-width="1.60" fill="none"/>
<text x="102.10" y="460.70" font-size="16">(BaCr)<tspan font-size="9.5" dy="-8.8">+</tspan></text>
<path d="M60.40 478.20H64.00M66.00 478.20H69.60M71.60 478.20H75.20M77.20 478.20H80.80M82.80 478.20H86.40M88.40 478.20H92.00" stroke="#008000" stroke-width="1.60" fill="none"/>
<text x="102.10" y="484.00" font-size="16">(YbCr)<tspan font-size="9.5" dy="-8.8">+</tspan></text>
<path d="M515 0V1237L197 1010V1180L530 1409H696V0Z" transform="translate(26.71 128.87) scale(0.00732 -0.00732)" fill="#000" stroke="#000" stroke-width="41.0"/>
<path d="M515 0V1237L197 1010V1180L530 1409H696V0Z" transform="translate(26.71 393.67) scale(0.00732 -0.00732)" fill="#000" stroke="#000" stroke-width="41.0"/>
<path d="M515 0V1237L197 1010V1180L530 1409H696V0Z" transform="translate(26.71 184.42) scale(0.00732 -0.00732)" fill="#000" stroke="#000" stroke-width="41.0"/>
<path d="M515 0V1237L197 1010V1180L530 1409H696V0Z" transform="translate(26.71 445.64) scale(0.00732 -0.00732)" fill="#000" stroke="#000" stroke-width="41.0"/>
<path d="M515 0V1237L197 1010V1180L530 1409H696V0Z" transform="translate(225.70 510.90) scale(0.00732 -0.00732)" fill="#000" stroke="#000" stroke-width="41.0"/>
<path d="M515 0V1237L197 1010V1180L530 1409H696V0Z" transform="translate(287.18 510.90) scale(0.00732 -0.00732)" fill="#000" stroke="#000" stroke-width="41.0"/>
<path d="M515 0V1237L197 1010V1180L530 1409H696V0Z" transform="translate(348.66 510.90) scale(0.00732 -0.00732)" fill="#000" stroke="#000" stroke-width="41.0"/>
<path d="M515 0V1237L197 1010V1180L530 1409H696V0Z" transform="translate(410.14 510.90) scale(0.00732 -0.00732)" fill="#000" stroke="#000" stroke-width="41.0"/>
</svg>
</body></html>
